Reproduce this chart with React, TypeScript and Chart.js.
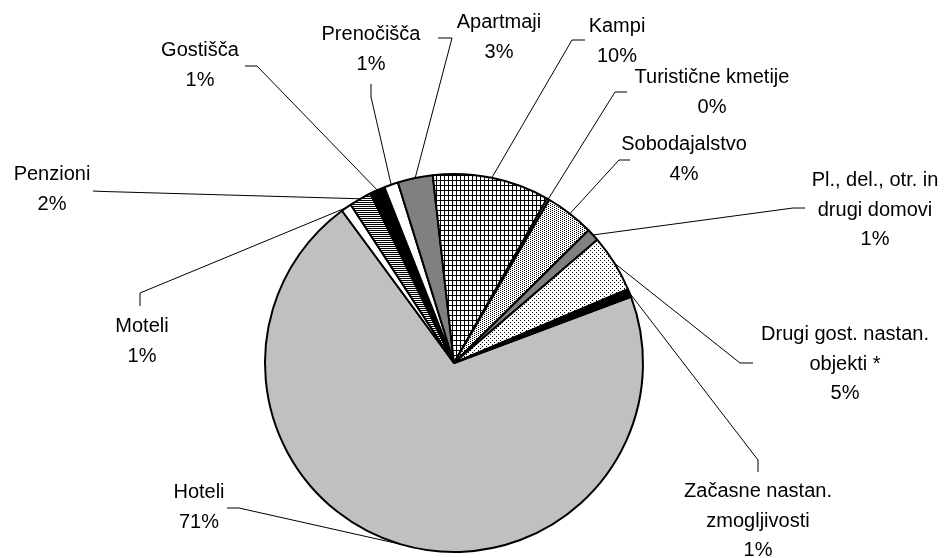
import React, { useEffect, useRef } from "react";
import { Chart, registerables } from "chart.js";

Chart.register(...registerables);

// ---- data ----
const categories: string[] = [
  "Hoteli",
  "Moteli",
  "Penzioni",
  "Gostišča",
  "Prenočišča",
  "Apartmaji",
  "Kampi",
  "Turistične kmetije",
  "Sobodajalstvo",
  "Pl., del., otr. in\ndrugi domovi",
  "Drugi gost. nastan.\nobjekti *",
  "Začasne nastan.\nzmogljivosti",
];
const shares: number[] = [70.6, 0.9, 1.9, 1.3, 1.2, 3.0, 10.0, 0.2, 4.2, 1.1, 4.9, 0.7];

// ---- styles / layout (not data) ----
type Fill = { kind: "solid"; color: string } | { kind: "pattern"; w: number; h: number; bg: string; fg: string; px: number[][] };
const fills: Fill[] = [
  { kind: "solid", color: "#C0C0C0" },
  { kind: "solid", color: "#FFFFFF" },
  { kind: "pattern", w: 2, h: 2, bg: "#FFFFFF", fg: "#000000", px: [[0, 0], [1, 0]] },
  { kind: "solid", color: "#000000" },
  { kind: "solid", color: "#FFFFFF" },
  { kind: "solid", color: "#808080" },
  { kind: "pattern", w: 4, h: 5, bg: "#FFFFFF", fg: "#000000", px: [[0, 0], [1, 0], [2, 0], [3, 0], [0, 1], [0, 2], [0, 3], [0, 4]] },
  { kind: "solid", color: "#FFFFFF" },
  { kind: "pattern", w: 4, h: 2, bg: "#FFFFFF", fg: "#000000", px: [[0, 0], [2, 1]] },
  { kind: "solid", color: "#808080" },
  { kind: "pattern", w: 4, h: 4, bg: "#FFFFFF", fg: "#000000", px: [[0, 0], [2, 2]] },
  { kind: "solid", color: "#000000" },
];

// label placement: text centre x, first baseline y, leader stub (near text -> elbow)
const labelLayout: { cx: number; by: number; stub: number[][] }[] = [
  { cx: 199, by: 498, stub: [[227, 508], [239, 508]] },
  { cx: 142, by: 332, stub: [[140, 306], [140, 293]] },
  { cx: 52, by: 180, stub: [[93, 191], [104, 191.5]] },
  { cx: 200, by: 56, stub: [[245, 66], [257, 66]] },
  { cx: 371, by: 40, stub: [[371, 84], [371, 97]] },
  { cx: 499, by: 28, stub: [[438, 38], [452, 38]] },
  { cx: 617, by: 32, stub: [[585, 40], [572, 40]] },
  { cx: 712, by: 83, stub: [[627, 92], [615, 92]] },
  { cx: 684, by: 150, stub: [[630, 160], [619, 160]] },
  { cx: 875, by: 186, stub: [[805, 208], [793, 208]] },
  { cx: 845, by: 340, stub: [[753, 363], [740, 363]] },
  { cx: 758, by: 497, stub: [[758, 472], [758, 460]] },
];

const FONT = '20px "Liberation Sans", Arial, sans-serif';
const LINE_H = 29.5;

function makeFill(f: Fill): string | CanvasPattern {
  if (f.kind === "solid") return f.color;
  const c = document.createElement("canvas");
  c.width = f.w;
  c.height = f.h;
  const g = c.getContext("2d")!;
  g.fillStyle = f.bg;
  g.fillRect(0, 0, f.w, f.h);
  g.fillStyle = f.fg;
  f.px.forEach(([x, y]) => g.fillRect(x, y, 1, 1));
  const ctx = document.createElement("canvas").getContext("2d")!;
  return ctx.createPattern(c, "repeat") as CanvasPattern;
}

const leaderPlugin = {
  id: "leaderLabels",
  afterDatasetsDraw(chart: any) {
    const ctx: CanvasRenderingContext2D = chart.ctx;
    const meta = chart.getDatasetMeta(0);
    const data: number[] = chart.data.datasets[0].data;
    const total = data.reduce((a, b) => a + b, 0);
    ctx.save();
    meta.data.forEach((arc: any, i: number) => {
      const p = arc.getProps(["x", "y", "startAngle", "endAngle", "outerRadius"], true);
      const mid = (p.startAngle + p.endAngle) / 2;
      const ax = p.x + Math.cos(mid) * p.outerRadius;
      const ay = p.y + Math.sin(mid) * p.outerRadius;
      const L = labelLayout[i];
      ctx.strokeStyle = "#000";
      ctx.lineWidth = 1;
      ctx.beginPath();
      ctx.moveTo(L.stub[0][0], L.stub[0][1]);
      ctx.lineTo(L.stub[1][0], L.stub[1][1]);
      ctx.lineTo(ax, ay);
      ctx.stroke();
      const lines = chart.data.labels[i].split("\n");
      lines.push(Math.round((data[i] / total) * 100) + "%");
      ctx.fillStyle = "#000";
      ctx.font = FONT;
      ctx.textAlign = "center";
      ctx.textBaseline = "alphabetic";
      lines.forEach((t: string, k: number) => ctx.fillText(t, L.cx, L.by + k * LINE_H));
    });
    ctx.restore();
  },
};

export default function App() {
  const ref = useRef<HTMLCanvasElement | null>(null);
  useEffect(() => {
    if (!ref.current) return;
    const chart = new Chart(ref.current, {
      type: "pie",
      data: {
        labels: categories,
        datasets: [
          {
            data: shares,
            backgroundColor: fills.map(makeFill) as any,
            borderColor: "#000000",
            borderWidth: 2,
            radius: 189,
          } as any,
        ],
      },
      options: {
        responsive: false,
        animation: false,
        devicePixelRatio: 1,
        rotation: 69.5,
        layout: { padding: { left: 0, right: 36, top: 168, bottom: 0 } },
        plugins: {
          legend: { display: false },
          tooltip: { enabled: false },
        },
        events: [],
      } as any,
      plugins: [leaderPlugin],
    });
    return () => chart.destroy();
  }, []);
  return (
    <div style={{ position: "absolute", left: 0, top: 0, width: 944, height: 558, background: "#fff" }}>
      <canvas ref={ref} width={944} height={558} style={{ display: "block" }} />
    </div>
  );
}
